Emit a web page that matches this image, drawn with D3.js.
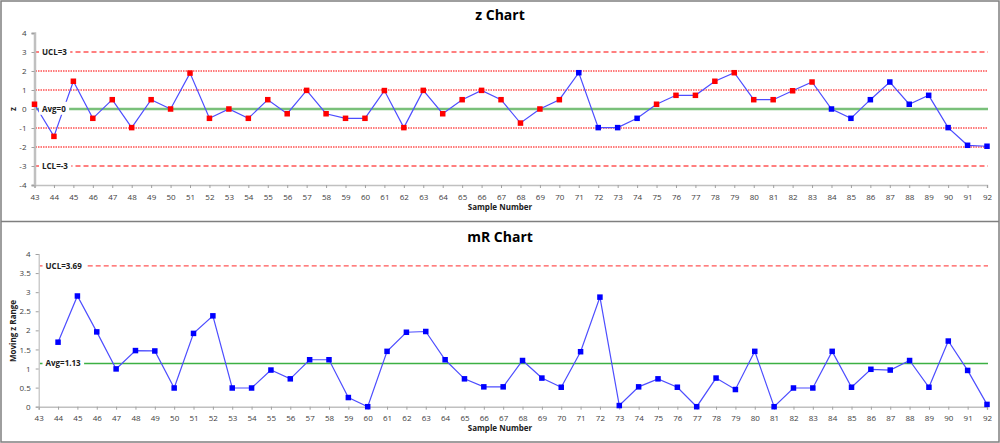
<!DOCTYPE html>
<html><head><meta charset="utf-8">
<script src="https://cdn.jsdelivr.net/npm/d3@7"></script>
<style>
html,body{margin:0;padding:0;background:#fff;}
svg{display:block;}
text{font-family:"Open Sans","Liberation Sans",sans-serif;}
</style></head>
<body><svg id="c" width="1000" height="443"></svg>
<script>
// ---- data ----
const samples = d3.range(43, 93);
const zValues = [0.25,-1.44,1.46,-0.49,0.49,-0.98,0.49,0,1.89,-0.49,0,-0.49,0.49,-0.25,0.98,-0.25,
  -0.49,-0.49,0.97,-0.98,0.98,-0.25,0.49,0.98,0.49,-0.74,0,0.49,1.91,-0.98,-0.98,-0.49,0.25,
  0.72,0.72,1.46,1.91,0.49,0.49,0.96,1.42,0,-0.49,0.49,1.42,0.25,0.72,-0.98,-1.91,-1.96];
const zFlags = ["R","R","R","R","R","R","R","R","R","R","R","R","R","R","R","R",
  "R","R","R","R","R","R","R","R","R","R","R","R","B","B","B","B","R",
  "R","R","R","R","R","R","R","R","B","B","B","B","B","B","B","B","B"];
const mrSamples = d3.range(44, 93);
const mrValues = [1.69,2.90,1.96,0.99,1.47,1.46,0.49,1.92,2.38,0.49,0.49,0.96,0.73,1.23,1.23,
  0.24,0,1.45,1.95,1.97,1.23,0.73,0.52,0.52,1.21,0.75,0.51,1.44,2.87,0.03,0.52,0.73,
  0.51,0,0.75,0.45,1.45,0,0.49,0.49,1.45,0.51,0.98,0.96,1.21,0.51,1.72,0.95,0.06];
const zTicks = [-4,-3,-2,-1,0,1,2,3,4];
const mrTicks = [0,0.5,1,1.5,2,2.5,3,3.5,4];
const zLimits = [
  {v:3, kind:"dash", label:"UCL=3"},
  {v:2, kind:"dot"},{v:1, kind:"dot"},{v:-1, kind:"dot"},{v:-2, kind:"dot"},
  {v:0, kind:"avg", label:"Avg=0"},
  {v:-3, kind:"dash", label:"LCL=-3"}];
const mrLimits = [
  {v:3.69, kind:"dash", label:"UCL=3.69"},
  {v:1.13, kind:"avg2", label:"Avg=1.13"}];

const svg = d3.select("#c");
const blueLine = "#4d4dff";
const flagColor = {R:"#ff0000", B:"#0000ff"};

// frame
svg.append("rect").attr("x",1).attr("y",1).attr("width",998).attr("height",441)
  .attr("fill","none").attr("stroke","#7f7f7f").attr("stroke-width",1.5);
svg.append("line").attr("x1",1).attr("x2",999).attr("y1",221.5).attr("y2",221.5)
  .attr("stroke","#7f7f7f").attr("stroke-width",1.5);

function panel(cfg){
  const g = svg.append("g");
  const x = d3.scaleLinear().domain([43,92]).range(cfg.xr);
  const y = d3.scaleLinear().domain(cfg.yd).range(cfg.yr);
  // title
  g.append("text").attr("x",500).attr("y",cfg.titleY).attr("text-anchor","middle")
    .attr("font-size",14).attr("font-weight","bold").attr("fill","#000").text(cfg.title);
  // limit lines
  cfg.limits.forEach(l=>{
    const ln = g.append("line").attr("x1",cfg.xr[0]+1).attr("x2",cfg.xr[1]+1)
      .attr("y1",y(l.v)).attr("y2",y(l.v));
    if(l.kind==="dash") ln.attr("stroke","#ff5555").attr("stroke-width",1.4).attr("stroke-dasharray","5,3");
    else if(l.kind==="dot") ln.attr("stroke","#ff5050").attr("stroke-width",1.5).attr("stroke-dasharray","1.5,1");
    else if(l.kind==="avg") ln.attr("stroke","#79c07a").attr("stroke-width",2.6);
    else ln.attr("stroke","#3cb043").attr("stroke-width",1.4);
  });
  // axes
  const yAxis = d3.axisLeft(y).tickValues(cfg.yTicks).tickSize(3).tickPadding(5).tickFormat(d=>String(d));
  const ya = g.append("g").attr("transform",`translate(${cfg.xr[0]},0)`).call(yAxis);
  ya.select(".domain").attr("stroke","#c0c0c0").attr("stroke-width",cfg.yAxisW);
  ya.selectAll(".tick line").attr("stroke","#a0a0a0");
  ya.selectAll("text").attr("font-size",8).attr("fill","#404040");
  const xAxis = d3.axisBottom(x).tickValues(samples).tickSize(3).tickPadding(6).tickFormat(d3.format("d"));
  const xa = g.append("g").attr("transform",`translate(0,${cfg.yr[0]})`).call(xAxis);
  xa.select(".domain").attr("stroke","#c0c0c0").attr("stroke-width",1.5);
  xa.selectAll(".tick line").attr("stroke","#a0a0a0");
  xa.selectAll("text").attr("font-size",8).attr("fill","#404040");
  // axis titles
  g.append("text").attr("x",500).attr("y",cfg.xTitleY).attr("text-anchor","middle")
    .attr("font-size",8).attr("font-weight","bold").attr("fill","#202020").text("Sample Number");
  g.append("text").attr("transform",`translate(${cfg.yTitleX},${cfg.yTitleY}) rotate(-90)`)
    .attr("text-anchor","middle").attr("font-size",8).attr("font-weight","bold").attr("fill","#202020").text(cfg.yTitle);
  // series
  const pts = cfg.xs.map((s,i)=>({s, v:cfg.vals[i], f:cfg.flags ? cfg.flags[i] : "B"}));
  g.append("path").datum(pts).attr("fill","none").attr("stroke",blueLine).attr("stroke-width",1.2)
    .attr("d", d3.line().x(d=>x(d.s)).y(d=>y(d.v)));
  g.selectAll("rect.m").data(pts).join("rect").attr("class","m")
    .attr("x",d=>x(d.s)-2.75).attr("y",d=>y(d.v)-2.75).attr("width",5.5).attr("height",5.5)
    .attr("fill",d=>flagColor[d.f]);
  // labels
  cfg.limits.filter(l=>l.label).forEach(l=>{
    const lg = g.append("g");
    const t = lg.append("text").attr("x",cfg.labelX).attr("y",y(l.v)).attr("dy","0.35em")
      .attr("font-size",8).attr("font-weight","bold").attr("fill","#202020").text(l.label);
    const bb = t.node().getBBox();
    lg.insert("rect","text").attr("x",bb.x-3).attr("y",bb.y-1).attr("width",bb.width+6).attr("height",bb.height+2)
      .attr("fill","#fff");
  });
}

panel({title:"z Chart", titleY:20, xr:[34.5,987], yd:[-4,4], yr:[185,33], yTicks:zTicks,
  yAxisW:2.5, xTitleY:210, yTitleX:16, yTitleY:109, yTitle:"z", xs:samples, vals:zValues,
  flags:zFlags, limits:zLimits, labelX:42});
panel({title:"mR Chart", titleY:242, xr:[38.7,987], yd:[0,4], yr:[406.7,254], yTicks:mrTicks,
  yAxisW:1.2, xTitleY:431, yTitleX:16, yTitleY:331, yTitle:"Moving z Range", xs:mrSamples, vals:mrValues,
  flags:null, limits:mrLimits, labelX:45.5});
</script></body></html>
